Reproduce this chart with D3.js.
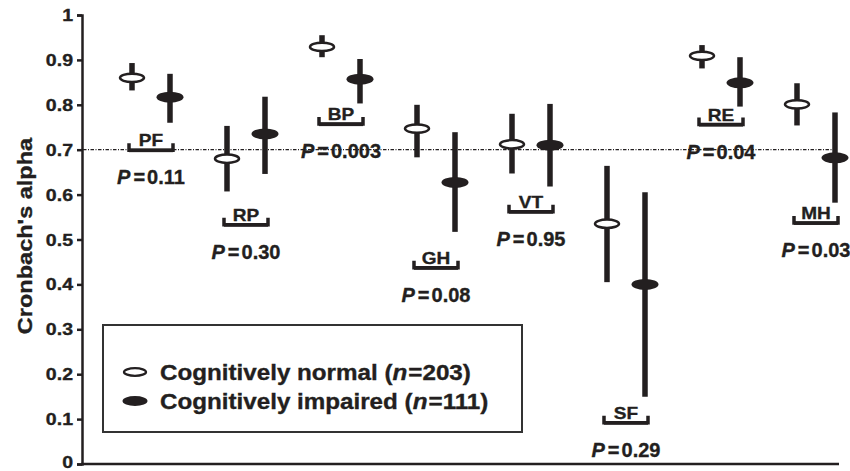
<!DOCTYPE html>
<html>
<head>
<meta charset="utf-8">
<script src="https://cdn.jsdelivr.net/npm/d3@7"></script>
<style>
  body { margin: 0; background: #fff; }
  svg { display: block; }
  text { font-family: "Liberation Sans", Arial, sans-serif; font-weight: bold; fill: #231f20; stroke: #231f20; stroke-width: 0.35; }
</style>
</head>
<body>
<svg id="chart" width="850" height="471"></svg>
<script>
// ---- data ----
const categories = ["PF", "RP", "BP", "GH", "VT", "SF", "RE", "MH"];
const normalAlpha = [0.860, 0.680, 0.929, 0.747, 0.712, 0.535, 0.909, 0.801];
const normalLow   = [0.832, 0.607, 0.906, 0.683, 0.647, 0.405, 0.881, 0.754];
const normalHigh  = [0.893, 0.753, 0.955, 0.800, 0.780, 0.664, 0.933, 0.848];
const impairedAlpha = [0.817, 0.735, 0.857, 0.627, 0.710, 0.400, 0.849, 0.682];
const impairedLow   = [0.760, 0.646, 0.803, 0.517, 0.618, 0.150, 0.796, 0.582];
const impairedHigh  = [0.869, 0.818, 0.902, 0.739, 0.802, 0.605, 0.906, 0.783];
const pValues = ["0.11", "0.30", "0.003", "0.08", "0.95", "0.29", "0.04", "0.03"];
const labelAlpha = [0.699, 0.533, 0.757, 0.437, 0.562, 0.092, 0.756, 0.537];
const yTicks = [0, 0.1, 0.2, 0.3, 0.4, 0.5, 0.6, 0.7, 0.8, 0.9, 1];
const yTickLabels = ["0", "0.1", "0.2", "0.3", "0.4", "0.5", "0.6", "0.7", "0.8", "0.9", "1"];
const threshold = 0.7;
const legendLabels = [
  { pre: "Cognitively normal (", n: "203", filled: false },
  { pre: "Cognitively impaired (", n: "111", filled: true }
];

const ink = "#231f20";
const svg = d3.select("#chart");
const y = d3.scaleLinear().domain([0, 1]).range([464, 15]);
const x = d3.scalePoint().domain(categories).range([151, 816]);
const off = 19;
const xAxisX = 82;

// axes
const yAxis = d3.axisLeft(y).tickValues(yTicks).tickSize(5).tickFormat("");
const gy = svg.append("g").attr("transform", `translate(${xAxisX},0)`).call(yAxis);
gy.select(".domain").attr("stroke", ink).attr("stroke-width", 2.5);
gy.selectAll(".tick line").attr("stroke", ink).attr("stroke-width", 2.5);

svg.append("line")
  .attr("x1", xAxisX - 1).attr("x2", 839)
  .attr("y1", y(0)).attr("y2", y(0))
  .attr("stroke", ink).attr("stroke-width", 2.5);

// tick labels (stretched horizontally)
svg.append("g").selectAll("text").data(yTicks).join("text")
  .attr("transform", d => `translate(73,${Math.min(y(d) + 6, 468)}) scale(1.15,1)`)
  .attr("text-anchor", "end")
  .attr("font-size", 17)
  .text((d, i) => yTickLabels[i]);

// y-axis title
svg.append("text")
  .attr("transform", "translate(32,236) rotate(-90) scale(1.12,1)")
  .attr("text-anchor", "middle")
  .attr("font-size", 21)
  .text("Cronbach's alpha");

// threshold line
svg.append("line")
  .attr("x1", xAxisX + 1).attr("x2", 838)
  .attr("y1", y(threshold)).attr("y2", y(threshold))
  .attr("stroke", ink).attr("stroke-width", 1.3)
  .attr("stroke-dasharray", "3.5,1.5,1,1.5");

// brackets + labels
const lab = svg.append("g");
categories.forEach((c, i) => {
  const cx = x(c), cy = y(labelAlpha[i]);
  const hw = 22;
  lab.append("path")
    .attr("d", `M${cx - hw},${cy - 7} V${cy} H${cx + hw} V${cy - 7}`)
    .attr("fill", "none").attr("stroke", ink).attr("stroke-width", 3.5);
  lab.append("rect")
    .attr("x", cx - hw).attr("y", cy - 1.5).attr("width", hw * 2).attr("height", 3.5)
    .attr("fill", ink);
  lab.append("text")
    .attr("transform", `translate(${cx},${cy - 4}) scale(1.12,1)`)
    .attr("text-anchor", "middle").attr("font-size", 17)
    .text(c);
  const t = lab.append("text")
    .attr("x", cx).attr("y", cy + 34)
    .attr("text-anchor", "middle").attr("font-size", 20);
  t.append("tspan").attr("font-style", "italic").text("P");
  t.append("tspan").attr("dx", 3).text("=");
  t.append("tspan").attr("dx", 2).text(pValues[i]);
});

// error bars + markers
const marks = svg.append("g");
function drawSeries(vals, lows, highs, dx, filled) {
  categories.forEach((c, i) => {
    const cx = x(c) + dx;
    marks.append("line")
      .attr("x1", cx).attr("x2", cx)
      .attr("y1", y(highs[i])).attr("y2", y(lows[i]))
      .attr("stroke", ink).attr("stroke-width", 5.5);
    if (filled) {
      marks.append("ellipse").attr("cx", cx).attr("cy", y(vals[i]))
        .attr("rx", 13.5).attr("ry", 5.5).attr("fill", ink);
    } else {
      marks.append("ellipse").attr("cx", cx).attr("cy", y(vals[i]))
        .attr("rx", 12).attr("ry", 4.2).attr("fill", "#fff")
        .attr("stroke", ink).attr("stroke-width", 2.5);
    }
  });
}
drawSeries(normalAlpha, normalLow, normalHigh, -off, false);
drawSeries(impairedAlpha, impairedLow, impairedHigh, off, true);

// legend
const lg = svg.append("g");
lg.append("rect").attr("x", 103).attr("y", 325).attr("width", 419).attr("height", 107)
  .attr("fill", "#fff").attr("stroke", "#333").attr("stroke-width", 2);
legendLabels.forEach((d, i) => {
  const cy = 372 + i * 29;
  if (d.filled) {
    lg.append("ellipse").attr("cx", 135).attr("cy", cy).attr("rx", 12.5).attr("ry", 5).attr("fill", ink);
  } else {
    lg.append("ellipse").attr("cx", 135).attr("cy", cy).attr("rx", 11).attr("ry", 3.8)
      .attr("fill", "#fff").attr("stroke", ink).attr("stroke-width", 2.3);
  }
  const t = lg.append("text")
    .attr("transform", `translate(160,${cy + 8}) scale(1.1,1)`)
    .attr("font-size", 22);
  t.append("tspan").text(d.pre);
  t.append("tspan").attr("font-style", "italic").text("n");
  t.append("tspan").attr("dx", 1).text("=" + d.n + ")");
});
</script>
</body>
</html>
